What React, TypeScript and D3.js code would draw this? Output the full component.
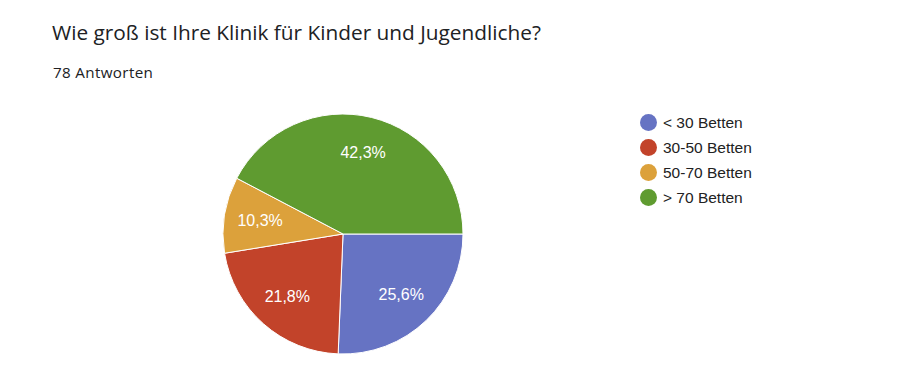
import React from "react";
import * as d3 from "d3";

const categories = ["< 30 Betten", "30-50 Betten", "50-70 Betten", "> 70 Betten"];
const counts = [20, 17, 8, 33];
const colors = ["#6673c3", "#c2432a", "#dca13b", "#5f9b30"];
const title = "Wie groß ist Ihre Klinik für Kinder und Jugendliche?";
const subtitle = "78 Antworten";

export default function App() {
  const W = 900, H = 380;
  const cx = 343, cy = 234, r = 120;
  const total = d3.sum(counts);
  const pie = d3.pie<number>().sort(null).value((d) => d)
    .startAngle(Math.PI / 2).endAngle(Math.PI / 2 + 2 * Math.PI);
  const arcs = pie(counts);
  const arc = d3.arc<d3.PieArcDatum<number>>().innerRadius(0).outerRadius(r);
  const labelArc = d3.arc<d3.PieArcDatum<number>>().innerRadius(168).outerRadius(0);
  const fmt = (v: number) => (Math.round((v / total) * 1000) / 10).toFixed(1).replace(".", ",") + "%";
  return (
    <svg width={W} height={H} style={{ position: "absolute", left: 0, top: 0, background: "#fff" }}>
      <text x={52} y={39.5} fontFamily="'Open Sans', Roboto, sans-serif" fontSize={20.8} fill="#202124">{title}</text>
      <text x={53} y={77.5} fontFamily="'Open Sans', Roboto, sans-serif" fontSize={15.2} letterSpacing={0.35} fill="#202124">{subtitle}</text>
      <g transform={`translate(${cx},${cy})`}>
        {arcs.map((a, i) => (
          <path key={i} d={arc(a) || ""} fill={colors[i]} stroke="#fff" strokeWidth={1} />
        ))}
        {arcs.map((a, i) => {
          const [x, y] = labelArc.centroid(a);
          return (
            <text key={"l" + i} x={x} y={y} textAnchor="middle" dominantBaseline="central"
              fontFamily="'Liberation Sans', Arial, sans-serif" fontSize={16} fill="#fff">
              {fmt(a.data)}
            </text>
          );
        })}
      </g>
      <g fontFamily="'Liberation Sans', Arial, sans-serif" fontSize={15.5} fill="#222">
        {categories.map((c, i) => (
          <g key={c} transform={`translate(648.5,${122.5 + i * 25})`}>
            <circle r={8.5} fill={colors[i]} />
            <text x={14.5} y={5.7}>{c}</text>
          </g>
        ))}
      </g>
    </svg>
  );
}
